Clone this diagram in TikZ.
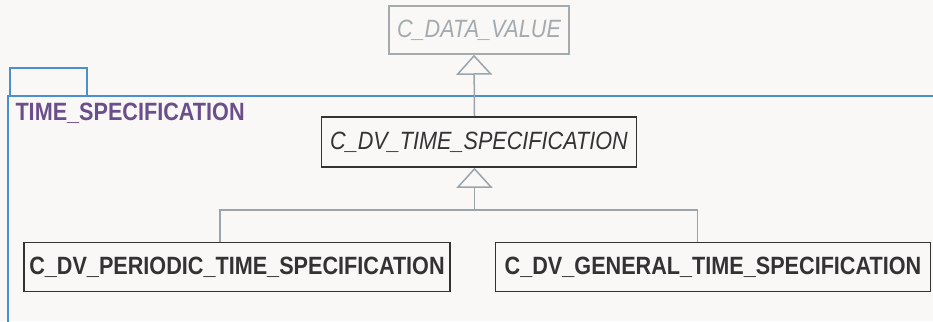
\documentclass[tikz,border=0pt]{standalone}
\usepackage{fontspec}
\usepackage{tikz}
\usetikzlibrary{calc,backgrounds,arrows.meta}
\usetikzlibrary{positioning}
\usepackage{xcolor}
\newfontfamily\umlfont[FakeStretch=0.865]{Liberation Sans}
\definecolor{paper}{HTML}{F9F8F7}
\definecolor{pkgblue}{HTML}{4A8FD0}
\definecolor{pkgpurple}{HTML}{6B4F8A}
\definecolor{boxdark}{HTML}{333333}
\definecolor{ghost}{HTML}{A3ABAF}
\definecolor{wire}{HTML}{9AA4AA}
\tikzstyle{uml}=[
  x=1pt,y=-1pt,font=\umlfont\fontsize{25}{30}\selectfont
]
\tikzstyle{classbox}=[
  draw=boxdark,line width=1.5pt,fill=paper,inner sep=2pt,text=boxdark
]
\tikzstyle{ghostbox}=[
  draw=ghost,line width=1.5pt,fill=paper,inner sep=2pt,text=ghost
]
\tikzstyle{pkgline}=[
  draw=pkgblue,line width=1.5pt
]
\tikzstyle{genedge}=[
  draw=wire,line width=1.5pt,-{Triangle[open,length=20pt,width=36pt]}
]
\tikzstyle{plainedge}=[
  draw=wire,line width=1.5pt
]

\begin{document}
\begin{tikzpicture}[uml]
    \useasboundingbox (0,0) rectangle (933,321);
      \node (dv) at (479,30) [ghostbox,minimum width=180pt,minimum height=48pt] {\itshape C\_DATA\_VALUE};
      \node (tspec) at ($(dv) + (0,112)$) [classbox,minimum width=315pt,minimum height=50pt] {\itshape C\_DV\_TIME\_SPECIFICATION};
      \node (periodic) at ($(tspec) + (-242,125)$) [classbox,minimum width=426pt,minimum height=49pt] {\bfseries C\_DV\_PERIODIC\_TIME\_SPECIFICATION};
      \node (general) at ($(tspec) + (234,125)$) [classbox,minimum width=435pt,minimum height=49pt] {\bfseries C\_DV\_GENERAL\_TIME\_SPECIFICATION};
      \node (pkglabel) at (12,113) [anchor=west,text=pkgpurple,font=\umlfont\fontsize{25}{30}\selectfont\bfseries] {TIME\_SPECIFICATION};
      \coordinate (fork) at ($(tspec.south) + (-4.5,42)$);
    \begin{scope}[on background layer]
      \fill[paper] (0,0) rectangle (933,321);
      \draw [pkgline] (10,96) rectangle (87,68);
      \draw [pkgline] (934,96) -- (8,96) -- (8,322);
      \draw [genedge] ($(tspec.north) + (-4.5,0)$) -- ($(dv.south) + (-5,0)$);
      \draw [genedge] (fork) -- ($(tspec.south) + (-4.5,0)$);
      \draw [plainedge] ($(periodic.north) + (-17,0)$) |- (fork);
      \draw [plainedge] ($(general.north) + (-15.5,0)$) |- (fork);
    \end{scope}
    \end{tikzpicture}
\end{document}
